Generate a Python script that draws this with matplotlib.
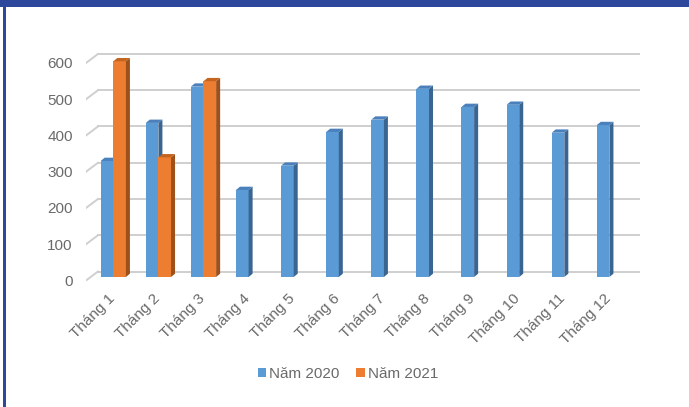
import matplotlib
matplotlib.use("Agg")
import matplotlib.pyplot as plt
import matplotlib.transforms as mtransforms
from matplotlib.patches import Polygon, Rectangle, Patch

# data
months = ["Tháng 1", "Tháng 2", "Tháng 3", "Tháng 4", "Tháng 5", "Tháng 6",
          "Tháng 7", "Tháng 8", "Tháng 9", "Tháng 10", "Tháng 11", "Tháng 12"]
sales_2020 = [320, 425, 525, 240, 307, 400, 434, 519, 469, 475, 398, 419]
sales_2021 = [595, 330, 540]
series_names = ["Năm 2020", "Năm 2021"]
y_ticks = [0, 100, 200, 300, 400, 500, 600]

plt.rcParams['font.family'] = ['Liberation Sans', 'DejaVu Sans']
TEXT = '#6a6a6a'
GRID = '#cfcfcf'
BORDER = '#2c479c'

# face colours: front, side, top
BLUE = ('#5b9bd5', '#3a6591', '#4a80bb')
ORANGE = ('#ed7d31', '#9e501b', '#c4651f')

# pseudo-3d geometry (data units)
BAR_W = 0.28
LIFT = 9.7          # bars sit a little above the front floor
BACK = 24.8         # back wall gridlines lifted
BACK_X = 0.265      # back wall shifted right
DX, DY = 0.089, 9.1  # bar depth

fig = plt.figure(figsize=(6.89, 4.07), dpi=100)
ax = fig.add_axes([0.12482, 0.31081, 0.80406, 0.59091])
x_left, x_right = -0.605, 11.678
ax.set_xlim(x_left, x_right)
ax.set_ylim(0, 663.4)

# back gridlines + left diagonal
for v in y_ticks:
    ax.plot([x_left + BACK_X, x_right], [v + BACK, v + BACK], color=GRID, lw=1.4, zorder=1)
    ax.plot([x_left, x_left + BACK_X], [v, v + BACK], color=GRID, lw=1.4, zorder=1)


def bar3d(xc, val, colors):
    xl, xr = xc - BAR_W / 2, xc + BAR_W / 2
    top = LIFT + val
    ax.add_patch(Rectangle((xl, LIFT), BAR_W, val, facecolor=colors[0], edgecolor='none', zorder=3))
    ax.add_patch(Polygon([(xr, LIFT), (xr, top), (xr + DX, top + DY), (xr + DX, LIFT + DY)],
                         facecolor=colors[1], edgecolor='none', zorder=3))
    ax.add_patch(Polygon([(xl, top), (xr, top), (xr + DX, top + DY), (xl + DX, top + DY)],
                         facecolor=colors[2], edgecolor='none', zorder=3))


for i in range(len(months)):
    bar3d(i - BAR_W / 2, sales_2020[i], BLUE)
    if i < len(sales_2021):
        bar3d(i + BAR_W / 2, sales_2021[i], ORANGE)

ax.set_yticks(y_ticks)
ax.set_yticklabels([str(v) for v in y_ticks], fontsize=11, color=TEXT)
ax.set_xticks(range(len(months)))
ax.set_xticklabels(months, rotation=45, ha='right', rotation_mode='anchor',
                   fontsize=11, color=TEXT)
ax.tick_params(axis='y', length=0, pad=9.5)
ax.tick_params(axis='x', length=0, pad=8)
shift = mtransforms.ScaledTranslation(-6 / 100, 0, fig.dpi_scale_trans)
for lbl in ax.get_xticklabels():
    lbl.set_transform(lbl.get_transform() + shift)
for s in ax.spines.values():
    s.set_visible(False)

handles = [Patch(facecolor=BLUE[0]), Patch(facecolor=ORANGE[0])]
fig.legend(handles, series_names, loc='center', bbox_to_anchor=(0.505, 0.082), ncol=2,
           frameon=False, fontsize=11, labelcolor=TEXT, handlelength=0.55,
           handleheight=0.55, handletextpad=0.2, columnspacing=1.1)

# frame decoration of the original slide
fig.patches.append(Rectangle((0, 1 - 6.7 / 407), 1, 6.7 / 407, transform=fig.transFigure,
                             facecolor=BORDER, edgecolor='none'))
fig.patches.append(Rectangle((3 / 689, 0), 3 / 689, 1, transform=fig.transFigure,
                             facecolor=BORDER, edgecolor='none'))

fig.savefig("out.png", dpi=100)
